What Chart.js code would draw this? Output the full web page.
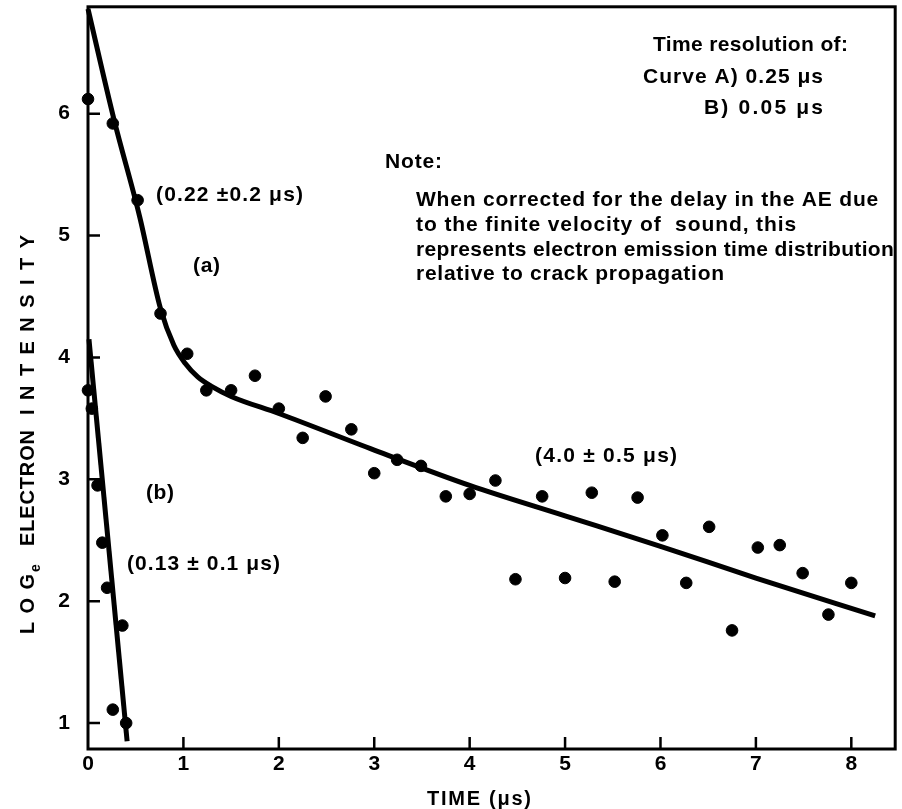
<!DOCTYPE html>
<html>
<head>
<meta charset="utf-8">
<script src="https://cdn.jsdelivr.net/npm/chart.js@4/dist/chart.umd.min.js"></script>
<style>
  html, body { margin: 0; padding: 0; background: #fff; }
</style>
</head>
<body>
<canvas id="chart" width="902" height="809"></canvas>
<script>
// curve (a): 0.25 us time resolution
const timeA = [0, 0.26, 0.52, 0.76, 1.04, 1.24, 1.5, 1.75, 2.0, 2.25, 2.49, 2.76, 3.0, 3.24, 3.49, 3.75, 4.0, 4.27, 4.48, 4.76, 5.0, 5.28, 5.52, 5.76, 6.02, 6.27, 6.51, 6.75, 7.02, 7.25, 7.49, 7.76, 8.0];
const logA = [6.12, 5.92, 5.29, 4.36, 4.03, 3.73, 3.73, 3.85, 3.58, 3.34, 3.68, 3.41, 3.05, 3.16, 3.11, 2.86, 2.88, 2.99, 2.18, 2.86, 2.19, 2.89, 2.16, 2.85, 2.54, 2.15, 2.61, 1.76, 2.44, 2.46, 2.23, 1.89, 2.15];

// curve (b): 0.05 us time resolution
const timeB = [0, 0.04, 0.1, 0.15, 0.2, 0.26, 0.36, 0.4];
const logB = [3.73, 3.58, 2.95, 2.48, 2.11, 1.11, 1.80, 1.0];

// hand-drawn fit curves
const fitTimeA = [0, 0.27, 0.54, 0.76, 0.9, 1.02, 1.15, 1.3, 1.5, 2, 3, 4, 5, 6, 7, 8.25];
const fitLogA = [6.86, 5.96, 5.16, 4.4, 4.1, 3.95, 3.84, 3.76, 3.68, 3.54, 3.24, 2.95, 2.70, 2.45, 2.19, 1.88];
const fitTimeB = [0.01, 0.41];
const fitLogB = [4.15, 0.85];

const xTicks = [0, 1, 2, 3, 4, 5, 6, 7, 8];
const yTicks = [1, 2, 3, 4, 5, 6];

const pairs = (xs, ys) => xs.map((v, i) => ({ x: v, y: ys[i] }));

const FONT = '"Liberation Sans", Arial, sans-serif';

// text that sits on the picture: left edge, baseline, target width (px)
const notes = [
  { t: '(0.22 \u00b10.2 \u03bcs)', x: 156, y: 201, w: 147 },
  { t: '(a)', x: 193, y: 272, w: 27 },
  { t: '(b)', x: 146, y: 499, w: 28 },
  { t: '(0.13 \u00b1 0.1 \u03bcs)', x: 127, y: 570, w: 153 },
  { t: '(4.0 \u00b1 0.5 \u03bcs)', x: 535, y: 462, w: 142 },
  { t: 'Time resolution of:', x: 653, y: 51, w: 195 },
  { t: 'Curve A) 0.25 \u03bcs', x: 643, y: 83, w: 180 },
  { t: 'B) 0.05 \u03bcs', x: 704, y: 114, w: 119 },
  { t: 'Note:', x: 385, y: 168, w: 57 },
  { t: 'When corrected for the delay in the AE due', x: 416, y: 206, w: 462 },
  { t: 'to the finite velocity of  sound, this', x: 416, y: 231, w: 380 },
  { t: 'represents electron emission time distribution', x: 416, y: 256, w: 478 },
  { t: 'relative to crack propagation', x: 416, y: 280, w: 308 }
];

function fitText(ctx, str, x, y, w) {
  ctx.letterSpacing = '0px';
  const natural = ctx.measureText(str).width;
  const gap = str.length > 1 ? (w - natural) / (str.length - 1) : 0;
  ctx.letterSpacing = gap.toFixed(2) + 'px';
  ctx.fillText(str, x, y);
  ctx.letterSpacing = '0px';
}

const decor = {
  id: 'decor',
  afterDraw(chart) {
    const { ctx, chartArea: a, scales: { x, y } } = chart;
    ctx.save();
    ctx.strokeStyle = '#000';
    ctx.fillStyle = '#000';

    // frame
    ctx.lineWidth = 3;
    ctx.strokeRect(a.left, a.top, a.right - a.left, a.bottom - a.top);

    // inward tick marks
    ctx.lineWidth = 2.5;
    ctx.beginPath();
    xTicks.slice(1).forEach(v => {
      const px = x.getPixelForValue(v);
      ctx.moveTo(px, a.bottom);
      ctx.lineTo(px, a.bottom - 12);
    });
    yTicks.forEach(v => {
      const py = y.getPixelForValue(v);
      ctx.moveTo(a.left, py);
      ctx.lineTo(a.left + 12, py);
    });
    ctx.stroke();

    // annotations
    ctx.font = 'bold 21px ' + FONT;
    ctx.textAlign = 'left';
    ctx.textBaseline = 'alphabetic';
    notes.forEach(n => fitText(ctx, n.t, n.x, n.y, n.w));

    // x title
    ctx.font = 'bold 20px ' + FONT;
    fitText(ctx, 'TIME (\u03bcs)', 427, 805, 104);

    // y title, rotated
    ctx.translate(34, 0);
    ctx.rotate(-Math.PI / 2);
    ctx.font = 'bold 20px ' + FONT;
    fitText(ctx, 'LOG', -634, 0, 60);
    ctx.font = 'bold 14px ' + FONT;
    ctx.fillText('e', -572, 6);
    ctx.font = 'bold 20px ' + FONT;
    fitText(ctx, 'ELECTRON', -546, 0, 116);
    fitText(ctx, 'INTENSITY', -415, 0, 180);
    ctx.restore();
  }
};

new Chart(document.getElementById('chart'), {
  type: 'scatter',
  data: {
    datasets: [
      {
        label: 'fit a',
        type: 'line',
        data: pairs(fitTimeA, fitLogA),
        borderColor: '#000',
        borderWidth: 5,
        pointRadius: 0,
        cubicInterpolationMode: 'monotone',
        fill: false,
        clip: false
      },
      {
        label: 'fit b',
        type: 'line',
        data: pairs(fitTimeB, fitLogB),
        borderColor: '#000',
        borderWidth: 5,
        pointRadius: 0,
        fill: false,
        clip: false
      },
      {
        label: 'curve a',
        data: pairs(timeA, logA),
        backgroundColor: '#000',
        borderColor: '#000',
        pointRadius: 5.8,
        clip: false
      },
      {
        label: 'curve b',
        data: pairs(timeB, logB),
        backgroundColor: '#000',
        borderColor: '#000',
        pointRadius: 5.8,
        clip: false
      }
    ]
  },
  options: {
    responsive: false,
    animation: false,
    layout: { padding: { top: 6, right: 4, left: 0, bottom: 0 } },
    plugins: {
      legend: { display: false },
      tooltip: { enabled: false }
    },
    scales: {
      x: {
        type: 'linear',
        min: 0,
        max: 8.46,
        afterBuildTicks: s => { s.ticks = xTicks.map(v => ({ value: v })); },
        afterFit: s => { s.height = 60; s.paddingLeft = 0; s.paddingRight = 0; },
        grid: { display: false, drawTicks: false },
        border: { display: false },
        ticks: {
          color: '#000',
          padding: 3,
          maxRotation: 0,
          font: { family: FONT, size: 21, weight: 'bold' }
        }
      },
      y: {
        type: 'linear',
        min: 0.787,
        max: 6.877,
        afterBuildTicks: s => { s.ticks = yTicks.map(v => ({ value: v })); },
        afterFit: s => { s.width = 88; s.paddingTop = 0; s.paddingBottom = 0; },
        grid: { display: false, drawTicks: false },
        border: { display: false },
        ticks: {
          color: '#000',
          padding: 18,
          font: { family: FONT, size: 21, weight: 'bold' }
        }
      }
    }
  },
  plugins: [decor]
});
</script>
</body>
</html>
